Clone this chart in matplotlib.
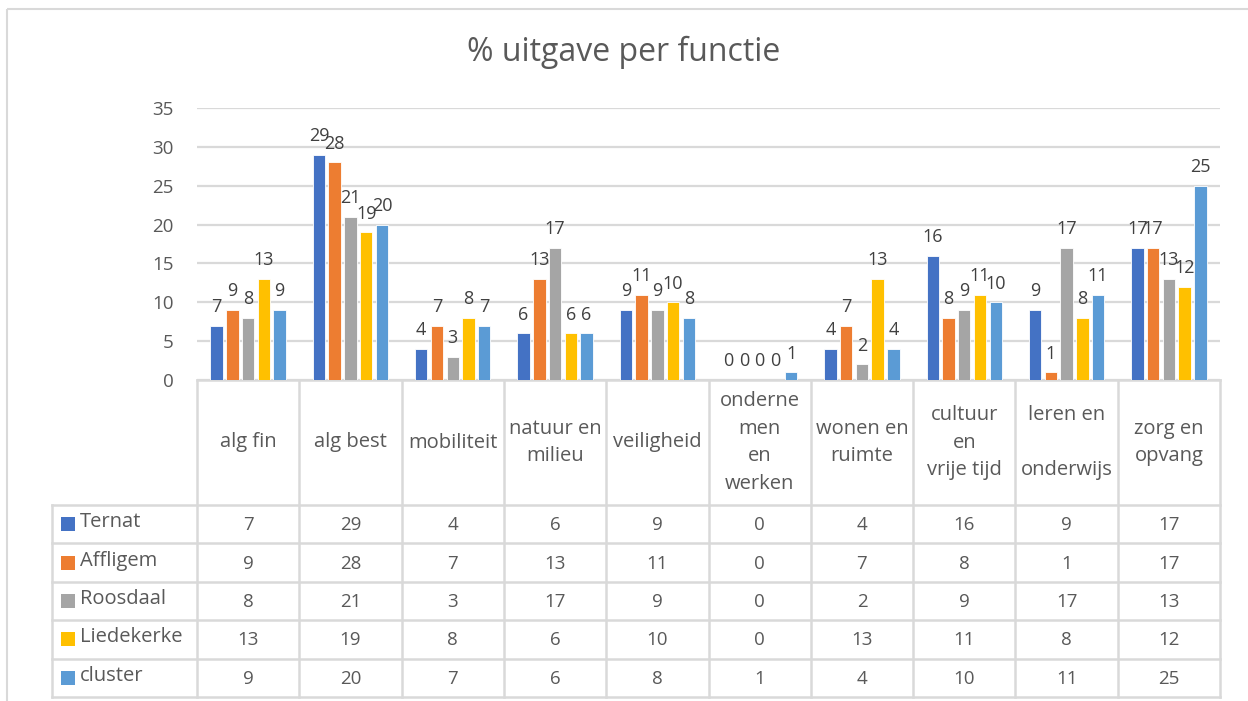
import matplotlib
matplotlib.use("Agg")
import matplotlib.pyplot as plt
import numpy as np
from matplotlib.patches import Rectangle
from matplotlib.lines import Line2D

categories = ["alg fin", "alg best", "mobiliteit", "natuur en\nmilieu", "veiligheid",
              "onderne\nmen\nen\nwerken", "wonen en\nruimte", "cultuur\nen\nvrije tijd",
              "leren en\n\nonderwijs", "zorg en\nopvang"]
series_names = ["Ternat", "Affligem", "Roosdaal", "Liedekerke", "cluster"]
ternat = [7, 29, 4, 6, 9, 0, 4, 16, 9, 17]
affligem = [9, 28, 7, 13, 11, 0, 7, 8, 1, 17]
roosdaal = [8, 21, 3, 17, 9, 0, 2, 9, 17, 13]
liedekerke = [13, 19, 8, 6, 10, 0, 13, 11, 8, 12]
cluster = [9, 20, 7, 6, 8, 1, 4, 10, 11, 25]
series = [ternat, affligem, roosdaal, liedekerke, cluster]
colors = ["#4472C4", "#ED7D31", "#A5A5A5", "#FFC000", "#5B9BD5"]
yticks = [0, 5, 10, 15, 20, 25, 30, 35]
title = "% uitgave per functie"

plt.rcParams['font.family'] = ['Open Sans', 'DejaVu Sans']
TXT = "#595959"
GRID = "#D9D9D9"

W, H = 1248, 701
fig = plt.figure(figsize=(W / 100, H / 100), dpi=100)

# pixel layout
PL, PR, PT, PB = 197, 1220, 108, 380
LEG_L = 52
HEAD_B = 505
TAB_B = 697

ax = fig.add_axes([PL / W, (H - PB) / H, (PR - PL) / W, (PB - PT) / H])
n = len(categories)
x = np.arange(n)
step = 0.154
bw = 0.122
for i, (vals, c, name) in enumerate(zip(series, colors, series_names)):
    pos = x + (i - 2) * step
    ax.bar(pos, vals, width=bw, color=c, edgecolor="white", linewidth=0.6, zorder=3, label=name)
    for p, v in zip(pos, vals):
        ax.annotate(str(v), (p, v), xytext=(0, 7), textcoords="offset points",
                    ha="center", va="bottom", fontsize=13, color="#404040", zorder=4)
ax.set_xlim(-0.5, n - 0.5)
ax.set_ylim(0, 35)
ax.set_yticks(yticks)
ax.set_yticklabels([str(t) for t in yticks], fontsize=13.5, color=TXT)
ax.tick_params(axis="y", length=0, pad=17)
ax.set_xticks([])
ax.grid(axis="y", color=GRID, linewidth=1.6, zorder=0)
for s in ["top", "right", "left", "bottom"]:
    ax.spines[s].set_visible(False)

# table / frame axes in pixel coordinates
tax = fig.add_axes([0, 0, 1, 1], zorder=-1)
tax.set_xlim(0, W)
tax.set_ylim(H, 0)
tax.axis("off")

# outer chart border
tax.add_patch(Rectangle((7, 9), W + 20, H + 20, fill=False, edgecolor=GRID, linewidth=1.5))

fig.text(0.5, 1 - 52 / H, title, ha="center", va="center", fontsize=23, color=TXT)

colw = (PR - PL) / n
col_edges = [PL + k * colw for k in range(n + 1)]
rowh = (TAB_B - HEAD_B) / len(series)
row_edges = [HEAD_B + k * rowh for k in range(len(series) + 1)]

lw = 1.8
tax.add_line(Line2D([PL, PR], [PB, PB], color=GRID, lw=lw))
for yb in row_edges:
    tax.add_line(Line2D([LEG_L, PR], [yb, yb], color=GRID, lw=lw))
for xe in col_edges:
    tax.add_line(Line2D([xe, xe], [PB, TAB_B], color=GRID, lw=lw))
tax.add_line(Line2D([LEG_L, LEG_L], [HEAD_B, TAB_B], color=GRID, lw=lw))

# category header
for k, cat in enumerate(categories):
    cx = (col_edges[k] + col_edges[k + 1]) / 2
    tax.text(cx, (PB + HEAD_B) / 2, cat, ha="center", va="center", fontsize=14.5,
             color=TXT, linespacing=1.5, multialignment="center")

# rows
for r, (vals, c, name) in enumerate(zip(series, colors, series_names)):
    cy = (row_edges[r] + row_edges[r + 1]) / 2
    tax.add_patch(Rectangle((61, cy - 7), 14, 14, facecolor=c, edgecolor="none"))
    tax.text(80, cy - 2, name, ha="left", va="center", fontsize=14.5, color=TXT)
    for k, v in enumerate(vals):
        cx = (col_edges[k] + col_edges[k + 1]) / 2
        tax.text(cx, cy + 1, str(v), ha="center", va="center", fontsize=13.5, color=TXT)

fig.savefig("out.png", dpi=100)
